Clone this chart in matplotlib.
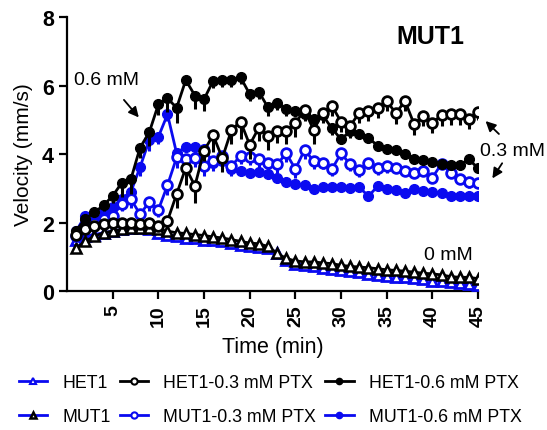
import numpy as np
import matplotlib
matplotlib.use("Agg")
import matplotlib.pyplot as plt
from matplotlib.lines import Line2D

plt.rcParams["font.family"] = ["Liberation Sans", "DejaVu Sans"]

BLUE = "#0A0AF0"
BLACK = "#000000"

# ============================================================
# DATA
# ============================================================

time = list(range(1, 46))

het1 = [1.50, 1.60, 1.65, 1.70, 1.75, 1.80, 1.85, 1.85, 1.80, 1.70,
        1.65, 1.60, 1.55, 1.55, 1.50, 1.50, 1.45, 1.40, 1.35, 1.30,
        1.28, 1.25, 1.12, 0.90, 0.80, 0.76, 0.72, 0.68, 0.65, 0.60,
        0.58, 0.55, 0.50, 0.48, 0.45, 0.42, 0.40, 0.38, 0.35, 0.30,
        0.28, 0.25, 0.22, 0.20, 0.18]

mut1 = [1.25, 1.45, 1.60, 1.70, 1.75, 1.80, 1.85, 1.85, 1.85, 1.80,
        1.75, 1.70, 1.68, 1.65, 1.62, 1.58, 1.55, 1.50, 1.45, 1.40,
        1.38, 1.30, 1.10, 0.95, 0.88, 0.85, 0.85, 0.82, 0.80, 0.75,
        0.72, 0.70, 0.68, 0.65, 0.62, 0.60, 0.58, 0.55, 0.52, 0.50,
        0.47, 0.42, 0.40, 0.40, 0.36]

het1_03 = [1.65, 1.80, 1.90, 1.95, 2.00, 2.00, 2.00, 1.95, 2.00, 1.90,
           2.05, 2.83, 3.60, 3.07, 4.10, 4.55, 3.88, 4.70, 4.95, 4.27,
           4.77, 4.53, 4.68, 4.68, 4.90, 5.29, 4.70, 5.21, 5.41, 4.94,
           4.82, 5.21, 5.26, 5.35, 5.55, 5.19, 5.55, 4.87, 5.11, 4.92,
           5.13, 5.16, 5.16, 5.03, 5.24]
het1_03_err = [0.10, 0.10, 0.10, 0.10, 0.10, 0.10, 0.10, 0.10, 0.10, 0.10,
               0.15, 0.40, 0.50, 0.50, 0.30, 0.50, 0.40, 0.40, 0.50, 0.40,
               0.40, 0.40, 0.35, 0.40, 0.40, 0.30, 0.40, 0.30, 0.30, 0.30,
               0.35, 0.30, 0.30, 0.30, 0.30, 0.30, 0.30, 0.30, 0.30, 0.30,
               0.30, 0.30, 0.30, 0.30, 0.25]

het1_06 = [1.76, 2.10, 2.30, 2.50, 2.78, 3.16, 3.27, 4.19, 4.63, 5.45,
           5.63, 5.35, 6.16, 5.71, 5.60, 6.14, 6.15, 6.15, 6.24, 5.75,
           5.82, 5.36, 5.49, 5.31, 5.26, 5.16, 5.03, 5.13, 4.75, 4.43,
           4.67, 4.60, 4.48, 4.24, 4.16, 4.12, 4.01, 3.87, 3.83, 3.77,
           3.70, 3.67, 3.67, 3.85, 3.58]
het1_06_err = [0.10, 0.10, 0.10, 0.15, 0.20, 0.40, 0.45, 0.30, 0.40, 0.30,
               0.40, 0.45, 0.10, 0.40, 0.35, 0.20, 0.20, 0.20, 0.20, 0.20,
               0.20, 0.25, 0.20, 0.20, 0.15, 0.20, 0.15, 0.15, 0.20, 0.15,
               0.15, 0.15, 0.15, 0.10, 0.10, 0.10, 0.10, 0.10, 0.10, 0.10,
               0.10, 0.10, 0.10, 0.10, 0.10]

mut1_03 = [1.60, 1.85, 2.00, 2.10, 2.20, 2.54, 2.68, 2.24, 2.60, 2.37,
           3.09, 3.90, 3.85, 3.88, 3.65, 3.80, 3.95, 3.65, 3.95, 3.92,
           3.85, 3.75, 3.70, 4.02, 3.56, 4.12, 3.80, 3.75, 3.56, 4.02,
           3.70, 3.54, 3.75, 3.60, 3.65, 3.60, 3.51, 3.46, 3.51, 3.31,
           3.72, 3.46, 3.27, 3.17, 3.15]
mut1_03_err = [0.10, 0.10, 0.10, 0.10, 0.15, 0.20, 0.25, 0.20, 0.25, 0.20,
               0.30, 0.30, 0.25, 0.25, 0.30, 0.25, 0.25, 0.30, 0.25, 0.25,
               0.25, 0.25, 0.25, 0.25, 0.25, 0.25, 0.25, 0.20, 0.20, 0.20,
               0.20, 0.20, 0.20, 0.20, 0.20, 0.15, 0.15, 0.15, 0.15, 0.15,
               0.15, 0.15, 0.15, 0.15, 0.15]

mut1_06 = [1.75, 2.20, 2.20, 2.35, 2.45, 2.70, 2.90, 3.62, 4.40, 4.50,
           5.16, 4.02, 4.22, 4.22, 4.15, 3.75, 3.80, 3.55, 3.50, 3.46,
           3.48, 3.41, 3.31, 3.18, 3.12, 3.10, 2.99, 3.03, 3.05, 3.03,
           3.01, 3.03, 2.77, 3.06, 2.98, 2.95, 2.86, 2.98, 2.92, 2.90,
           2.86, 2.78, 2.78, 2.78, 2.78]
mut1_06_err = [0.10, 0.10, 0.10, 0.15, 0.15, 0.20, 0.20, 0.25, 0.30, 0.20,
               0.20, 0.20, 0.15, 0.15, 0.20, 0.25, 0.20, 0.15, 0.15, 0.15,
               0.15, 0.15, 0.15, 0.15, 0.10, 0.10, 0.10, 0.10, 0.10, 0.10,
               0.10, 0.10, 0.10, 0.10, 0.10, 0.10, 0.10, 0.10, 0.10, 0.10,
               0.10, 0.10, 0.10, 0.10, 0.10]


# ============================================================
# PLOT
# ============================================================

def lower_err(ax, x, y, err, color, z):
    ax.errorbar(x, y, yerr=[err, [0] * len(err)], fmt="none",
                ecolor=color, elinewidth=2.2, capsize=0, zorder=z)


fig = plt.figure(figsize=(5.47, 4.31), dpi=100)
ax = fig.add_axes([0.1225, 0.3225, 0.7515, 0.6355])

ms = 7.0
lw = 2.0
mew = 2.0

ax.plot(time, het1, color=BLUE, lw=lw, marker="^", ms=ms,
        mfc="white", mec=BLUE, mew=mew, zorder=3)
ax.plot(time, mut1, color=BLACK, lw=lw, marker="^", ms=ms,
        mfc="white", mec=BLACK, mew=1.8, zorder=4)

lower_err(ax, time, mut1_06, mut1_06_err, BLUE, 5)
ax.plot(time, mut1_06, color=BLUE, lw=lw, marker="o", ms=ms,
        mfc=BLUE, mec=BLUE, zorder=5)

lower_err(ax, time, mut1_03, mut1_03_err, BLUE, 6)
ax.plot(time, mut1_03, color=BLUE, lw=lw, marker="o", ms=ms,
        mfc="white", mec=BLUE, mew=mew, zorder=6)

lower_err(ax, time, het1_06, het1_06_err, BLACK, 7)
ax.plot(time, het1_06, color=BLACK, lw=lw, marker="o", ms=ms,
        mfc=BLACK, mec=BLACK, zorder=7)

lower_err(ax, time, het1_03, het1_03_err, BLACK, 8)
ax.plot(time, het1_03, color=BLACK, lw=lw, marker="o", ms=ms,
        mfc="white", mec=BLACK, mew=mew, zorder=8)

ax.set_xlim(0, 45)
ax.set_ylim(0, 8)
ax.set_xticks([5, 10, 15, 20, 25, 30, 35, 40, 45])
ax.set_yticks([0, 2, 4, 6, 8])
ax.tick_params(axis="both", direction="out", length=6, width=1.6)
ax.tick_params(axis="x", labelsize=14, labelrotation=90)
ax.tick_params(axis="y", labelsize=15.5)
for lab in ax.get_xticklabels() + ax.get_yticklabels():
    lab.set_fontweight("bold")
for side in ("top", "right"):
    ax.spines[side].set_visible(False)
for side in ("left", "bottom"):
    ax.spines[side].set_linewidth(1.6)

ax.set_xlabel("Time (min)", fontsize=15.5, labelpad=7)
ax.set_ylabel("Velocity (mm/s)", fontsize=15, labelpad=6)

ax.text(39.8, 7.45, "MUT1", fontsize=18, fontweight="bold",
        ha="center", va="center")
ax.text(41.8, 1.08, "0 mM", fontsize=14, ha="center", va="center")

arrow = dict(arrowstyle="-|>", color=BLACK, lw=1.3, mutation_scale=15)
ax.annotate("0.6 mM", xy=(7.86, 5.07), xytext=(4.3, 6.19),
            fontsize=14, ha="center", va="center", arrowprops=dict(
                arrow, shrinkA=9, shrinkB=0))
ax.annotate("", xy=(45.6, 5.02), xytext=(47.5, 4.53),
            arrowprops=arrow, annotation_clip=False)
ax.annotate("", xy=(46.4, 3.22), xytext=(47.8, 3.80),
            arrowprops=arrow, annotation_clip=False)
ax.text(48.8, 4.09, "0.3 mM", fontsize=14, ha="center", va="center",
        clip_on=False)

# legend
lms = 4.5
handles = [
    Line2D([], [], color=BLUE, lw=lw, marker="^", ms=lms, mfc="white",
           mec=BLUE, mew=1.5, label="HET1"),
    Line2D([], [], color=BLUE, lw=lw, marker="^", ms=lms, mfc="white",
           mec=BLACK, mew=1.8, label="MUT1"),
    Line2D([], [], color=BLACK, lw=lw, marker="o", ms=lms, mfc="white",
           mec=BLACK, mew=1.5, label="HET1-0.3 mM PTX"),
    Line2D([], [], color=BLUE, lw=lw, marker="o", ms=lms, mfc="white",
           mec=BLUE, mew=1.5, label="MUT1-0.3 mM PTX"),
    Line2D([], [], color=BLACK, lw=lw, marker="o", ms=lms, mfc=BLACK,
           mec=BLACK, label="HET1-0.6 mM PTX"),
    Line2D([], [], color=BLUE, lw=lw, marker="o", ms=lms, mfc=BLUE,
           mec=BLUE, label="MUT1-0.6 mM PTX"),
]
fig.legend(handles=handles, ncol=3, loc="center",
           bbox_to_anchor=(0.494, 0.071), frameon=False, fontsize=12.8,
           handlelength=1.6, handletextpad=0.85, columnspacing=0.5,
           labelspacing=0.95, borderaxespad=0, borderpad=0)

fig.savefig("out.png", dpi=100, facecolor="white")
plt.close(fig)
